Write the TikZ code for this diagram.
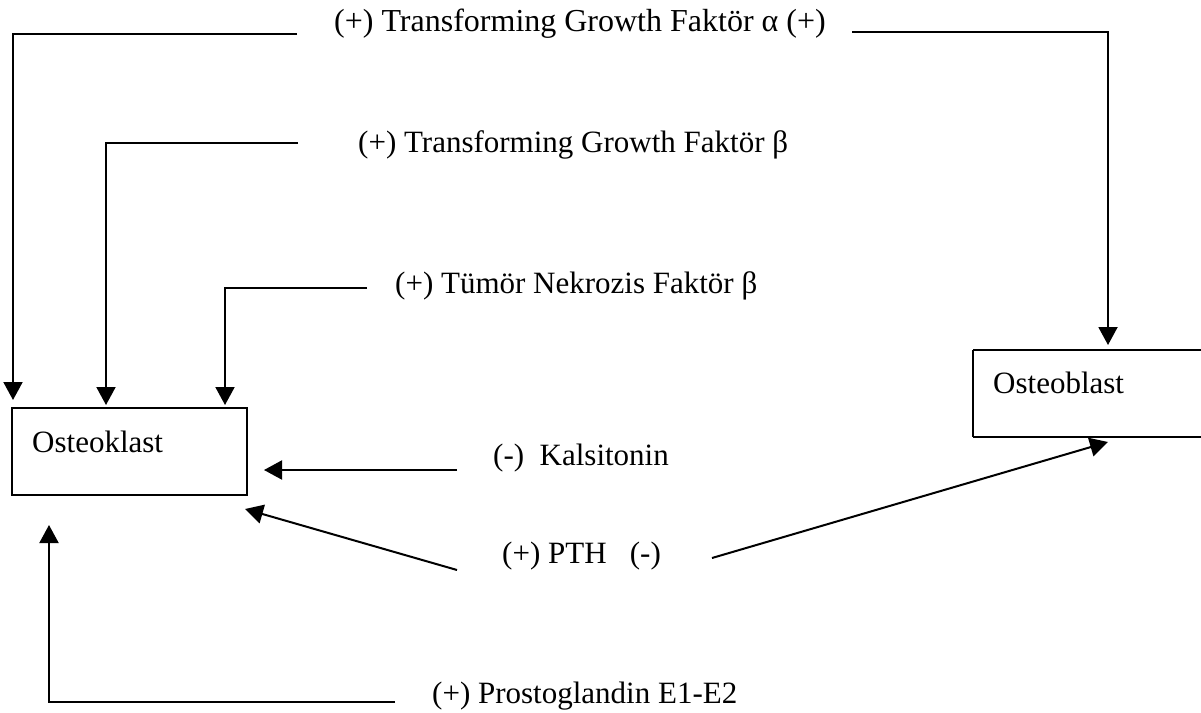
\documentclass[tikz,border=0pt]{standalone}
\usepackage{fontspec}
\setmainfont{Liberation Serif}
\usetikzlibrary{arrows.meta}
\begin{document}
\begin{tikzpicture}[x=1pt,y=-1pt,
  lbl/.style={anchor=base west,inner sep=0pt,font=\fontsize{31}{37}\selectfont},
  conn/.style={line width=2pt},
  arr/.style={conn,-{Triangle[length=18pt,width=19pt]}},
  boxstyle/.style={draw,line width=2pt}]
\useasboundingbox (0,0) rectangle (1201,712);
% boxes
\draw[boxstyle] (12,408) rectangle (247,495);
\node[lbl] (ok) at (32,452) {Osteoklast};
\draw[boxstyle] (973,350) -- (1215,350) (973,437) -- (1215,437) (973,350) -- (973,437);
\node[lbl] (ob) at (993,393) {Osteoblast};
% labels
\node[lbl,font=\fontsize{32}{38}\selectfont] (tgfa) at (334,31) {(+) Transforming Growth Faktör α (+)};
\node[lbl] (tgfb) at (358,152) {(+) Transforming Growth Faktör β};
\node[lbl] (tnf) at (395,293) {(+) Tümör Nekrozis Faktör β};
\node[lbl] (kal) at (493,465) {(-)\ \ Kalsitonin};
\node[lbl] (pth) at (502,563) {(+) PTH\ \ \ (-)};
\node[lbl] (pg) at (432,703) {(+) Prostoglandin E1-E2};
% connector coordinates
\coordinate (aL) at (297,34);
\coordinate (aLt) at (13,400);
\coordinate (aR) at (852,32);
\coordinate (aRt) at (1108,345);
\coordinate (bL) at (298,143);
\coordinate (bLt) at (106,405);
\coordinate (cL) at (367,288);
\coordinate (cLt) at (225,405);
\coordinate (kS) at (457,470);
\coordinate (kT) at (264,470);
\coordinate (pS) at (457,570);
\coordinate (pT) at (245,509);
\coordinate (pR) at (712,558);
\coordinate (pRt) at (1108,442);
\coordinate (gS) at (395,702);
\coordinate (gT) at (49,525);
% connectors
\draw[arr] (aL) -| (aLt);
\draw[arr] (aR) -| (aRt);
\draw[arr] (bL) -| (bLt);
\draw[arr] (cL) -| (cLt);
\draw[arr] (kS) -- (kT);
\draw[arr] (pS) -- (pT);
\draw[arr] (pR) -- (pRt);
\draw[arr] (gS) -| (gT);
\end{tikzpicture}
\end{document}
